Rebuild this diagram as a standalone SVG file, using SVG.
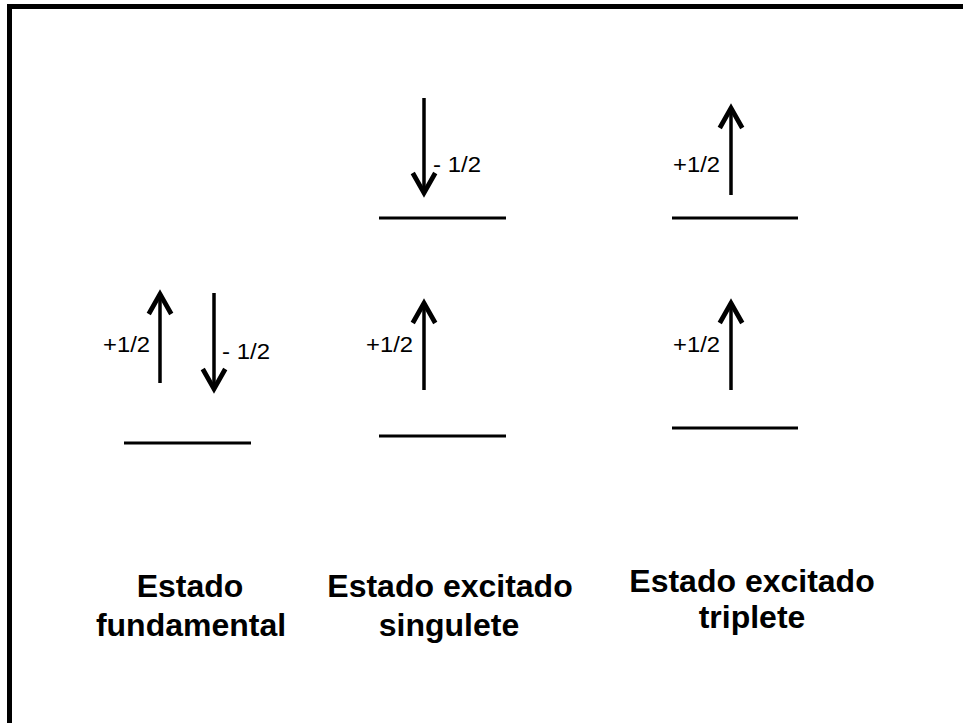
<svg xmlns="http://www.w3.org/2000/svg" width="963" height="723" viewBox="0 0 963 723">
<defs>
<style>
.lvl{stroke:#000;stroke-width:3.2;fill:none}
.arr{stroke:#000;stroke-width:3.5;fill:none;marker-end:url(#head)}
.spin{font-family:"Liberation Sans",Arial,sans-serif;font-size:22px;fill:#000}
.title{font-family:"Liberation Sans",Arial,sans-serif;font-size:32px;font-weight:bold;fill:#000;text-anchor:middle}
</style>
<marker id="head" markerUnits="userSpaceOnUse" markerWidth="30" markerHeight="30" viewBox="-20 -12 24 24" refX="0" refY="0" orient="auto" overflow="visible">
<path d="M-16,-9 L0,0 L-16,9" stroke="#000" stroke-width="3.8" fill="none" stroke-linejoin="miter"/>
</marker>
</defs>
<rect width="963" height="723" fill="#fff"/>
<rect x="9.5" y="6.5" width="960" height="720" fill="none" stroke="#000" stroke-width="5"/>
<g id="connectors">
<line class="arr" x1="160" y1="383" x2="160" y2="294"/>
<line class="arr" x1="214" y1="293" x2="214" y2="389"/>
<line class="arr" x1="424" y1="98" x2="424" y2="193"/>
<line class="arr" x1="424" y1="390" x2="424" y2="303"/>
<line class="arr" x1="731" y1="195" x2="731" y2="108"/>
<line class="arr" x1="731" y1="390" x2="731" y2="303"/>
</g>
<g id="fundamental">
<line class="lvl" x1="124" y1="443" x2="251" y2="443"/>
<text class="spin" x="103" y="352" textLength="47" lengthAdjust="spacingAndGlyphs">+1/2</text>
<text class="spin" x="222" y="359" textLength="48" lengthAdjust="spacingAndGlyphs">- 1/2</text>
<text class="title" x="190" y="597">Estado</text>
<text class="title" x="191" y="636">fundamental</text>
</g>
<g id="singulete">
<line class="lvl" x1="379" y1="218" x2="506" y2="218"/>
<line class="lvl" x1="379" y1="436" x2="506" y2="436"/>
<text class="spin" x="433" y="172" textLength="48" lengthAdjust="spacingAndGlyphs">- 1/2</text>
<text class="spin" x="366" y="352" textLength="47" lengthAdjust="spacingAndGlyphs">+1/2</text>
<text class="title" x="450" y="597">Estado excitado</text>
<text class="title" x="449" y="636">singulete</text>
</g>
<g id="triplete">
<line class="lvl" x1="672" y1="218" x2="798" y2="218"/>
<line class="lvl" x1="672" y1="428" x2="798" y2="428"/>
<text class="spin" x="673" y="172" textLength="47" lengthAdjust="spacingAndGlyphs">+1/2</text>
<text class="spin" x="673" y="352" textLength="47" lengthAdjust="spacingAndGlyphs">+1/2</text>
<text class="title" x="752" y="592">Estado excitado</text>
<text class="title" x="752" y="628">triplete</text>
</g>
</svg>
